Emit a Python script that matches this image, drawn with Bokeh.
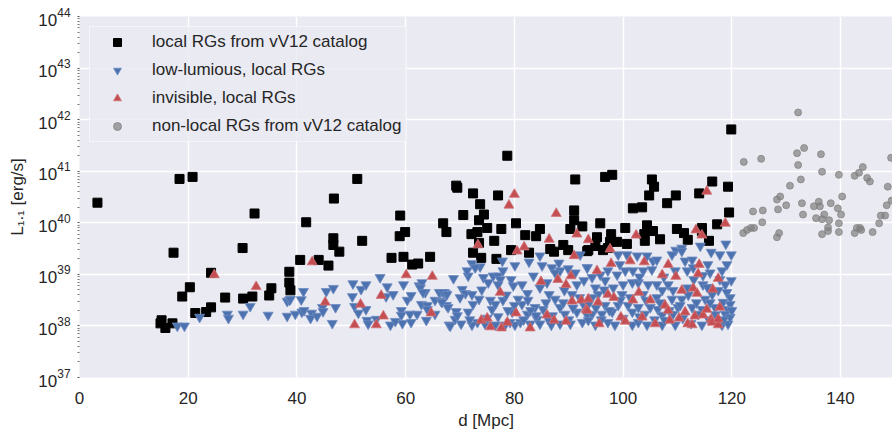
from bokeh.plotting import figure
from bokeh.models import Range1d, FixedTicker, ColumnDataSource, Legend, LegendItem
from bokeh.embed import file_html
from bokeh.resources import INLINE

# (distance d [Mpc], log10 L_1.1 [erg/s])
local_vv12 = [
    (3.3, 40.39), (18.4, 40.85), (20.8, 40.89), (32.2, 40.18), (46.8, 40.47), (51.1, 40.85), (59.0, 40.14),
    (41.7, 40.01), (66.9, 39.99), (67.5, 39.82), (17.3, 39.42), (30.0, 39.51), (46.7, 39.70), (46.7, 39.57),
    (47.8, 39.44), (52.0, 39.65), (58.9, 39.74), (59.9, 39.82), (57.4, 39.32), (59.6, 39.34), (61.2, 39.19),
    (62.3, 39.21), (64.5, 39.34), (40.6, 39.28), (44.0, 39.28), (45.8, 39.17), (38.6, 39.05), (38.6, 38.84),
    (38.8, 38.69), (24.2, 39.03), (20.3, 38.75), (18.9, 38.57), (26.8, 38.55), (30.1, 38.53), (31.8, 38.57),
    (35.3, 38.73), (34.9, 38.59), (24.2, 38.36), (23.3, 38.27), (21.3, 38.25), (14.9, 38.05), (15.1, 38.11),
    (15.8, 37.96), (17.1, 38.05),
    (78.7, 41.30), (69.3, 40.72), (69.5, 40.68), (72.4, 40.57), (77.0, 40.53), (91.2, 40.84), (73.7, 40.36),
    (74.4, 40.16), (70.6, 40.15), (73.5, 40.05), (75.0, 39.90), (77.6, 39.88), (80.3, 39.99), (72.1, 39.78),
    (73.2, 39.82), (73.5, 39.61), (76.3, 39.65), (72.4, 39.42), (73.9, 39.32), (76.7, 39.30), (79.4, 39.47),
    (82.0, 39.76), (84.0, 39.74), (84.7, 39.88), (82.7, 39.42), (86.6, 39.49), (87.3, 39.44), (89.0, 39.57),
    (89.9, 39.47), (91.0, 40.24), (91.0, 40.05), (92.5, 39.93), (90.3, 39.88), (93.4, 39.45),
    (119.9, 41.81), (96.7, 40.89), (98.0, 40.93), (105.3, 40.84), (105.7, 40.70), (116.4, 40.80), (119.3, 40.70),
    (104.8, 40.53), (109.7, 40.53), (114.0, 40.57), (101.8, 40.28), (103.5, 40.30), (108.1, 40.38), (119.5, 40.20),
    (95.8, 39.99), (100.4, 39.90), (104.4, 39.95), (105.5, 39.84), (109.9, 39.88), (111.2, 39.80), (114.5, 39.90),
    (114.5, 39.84), (117.3, 39.97), (95.2, 39.72), (97.8, 39.78), (97.6, 39.63), (98.9, 39.63), (100.7, 39.59),
    (103.9, 39.78), (104.0, 39.65), (106.8, 39.68), (111.9, 39.67), (115.8, 39.65), (93.6, 39.47), (94.9, 39.55),
    (96.3, 39.47), (97.2, 39.51),
]

low_luminous = [
    (18.0, 38.0), (19.3, 38.0), (22.1, 38.17), (27.2, 38.23), (27.4, 38.15), (30.1, 38.23), (31.4, 38.38),
    (34.7, 38.21), (38.2, 38.48), (38.6, 38.5), (38.2, 38.19), (39.7, 38.23), (40.8, 38.51), (41.2, 38.67),
    (40.9, 38.27), (41.3, 38.30), (42.7, 38.25), (42.5, 38.15), (43.7, 38.19), (44.7, 38.36), (44.8, 38.28),
    (45.4, 38.67), (46.7, 38.73), (47.1, 38.36), (46.5, 38.05), (50.3, 38.82), (50.2, 38.57), (50.6, 38.38),
    (51.3, 38.25), (51.8, 38.71), (52.7, 38.80), (52.7, 38.32), (52.9, 38.11), (53.1, 38.04), (54.6, 38.13),
    (55.3, 38.94), (56.6, 38.76), (56.4, 38.57), (57.7, 38.61), (57.2, 38.02), (58.1, 38.09), (59.2, 38.30),
    (59.2, 38.21), (59.4, 38.05), (59.6, 38.80), (60.3, 38.50), (61.0, 38.59), (61.0, 38.07), (62.1, 38.23),
    (62.5, 38.78), (63.0, 38.84), (62.9, 38.42), (63.6, 38.65), (64.0, 38.40), (63.8, 38.11), (64.0, 38.32),
    (65.4, 38.50), (65.4, 38.23), (66.4, 38.65), (66.5, 38.48), (67.3, 38.63), (67.5, 38.40), (68.0, 38.02),
    (62.7, 38.74), (63.2, 38.65), (66.2, 38.65), (67.1, 38.65), (38.8, 38.52), (60.8, 38.23),
    (68.8, 38.92), (71.5, 38.97), (71.3, 39.07), (72.2, 39.21), (73.7, 39.15), (72.8, 39.13), (77.8, 39.26),
    (80.1, 39.17), (82.7, 39.24), (84.7, 39.36), (85.1, 39.17), (88.2, 39.22), (86.9, 39.13), (88.4, 39.07),
    (87.5, 39.03), (89.9, 39.11), (91.2, 39.03), (92.1, 39.38), (93.4, 39.13), (70.4, 38.71), (71.0, 38.63),
    (72.2, 38.61), (74.3, 38.94), (75.2, 38.84), (76.1, 38.97), (77.0, 38.97), (77.9, 39.07), (77.4, 38.90),
    (77.0, 38.80), (79.4, 38.90), (79.8, 38.78), (81.4, 38.80), (82.4, 38.63), (83.5, 38.97), (84.7, 38.74),
    (86.0, 38.84), (86.4, 38.61), (89.2, 38.69), (90.6, 38.61), (91.5, 38.80), (92.8, 38.88), (66.9, 38.65),
    (67.6, 38.61), (66.7, 38.46), (67.8, 38.36), (69.3, 38.28), (69.1, 38.13), (70.2, 38.04), (68.2, 38.0),
    (71.5, 38.27), (72.4, 38.42), (73.5, 38.52), (73.2, 38.07), (75.6, 38.50), (75.9, 38.32), (76.5, 38.42),
    (77.9, 38.50), (79.6, 38.27), (80.7, 38.52), (81.4, 38.42), (82.4, 38.23), (82.5, 38.50), (83.8, 38.36),
    (84.2, 38.13), (84.7, 38.04), (85.3, 38.32), (86.2, 38.13), (87.5, 38.52), (88.4, 38.36), (89.3, 38.23),
    (90.3, 38.04), (91.5, 38.27), (92.5, 38.07), (93.4, 38.21), (88.4, 38.04), (82.9, 38.04), (81.1, 38.07),
    (80.1, 38.02), (79.2, 38.07), (78.3, 38.02), (76.5, 38.02), (74.6, 38.04), (72.2, 38.02),
    (70.0, 38.55), (74.0, 38.70), (78.5, 38.60), (80.0, 38.40), (83.0, 38.30), (85.8, 38.45), (87.0, 38.20),
    (89.0, 38.45), (90.8, 38.35), (92.0, 38.55), (69.5, 38.20), (71.8, 38.12), (75.0, 38.15), (77.0, 38.18),
    (78.8, 38.30), (81.7, 38.12), (84.0, 38.20), (86.8, 38.02), (90.0, 38.12), (92.8, 38.40),
    (109.7, 39.47), (110.8, 39.51), (110.8, 39.45), (114.2, 39.55), (116.2, 39.43), (117.8, 39.38), (118.9, 39.59),
    (119.9, 39.38), (111.4, 39.26), (112.7, 39.28), (115.6, 39.19), (116.0, 39.03), (118.2, 39.07), (119.1, 39.19),
    (111.8, 39.07), (112.9, 39.13), (114.7, 38.98), (119.9, 38.88), (118.8, 38.80), (104.4, 39.36), (105.5, 39.26),
    (106.2, 39.28), (102.6, 39.36), (100.7, 39.38), (99.1, 39.38), (99.4, 39.19), (98.9, 38.99), (100.4, 39.07),
    (101.8, 39.07), (103.7, 39.07), (105.3, 39.09), (109.0, 39.38), (109.6, 39.07), (108.3, 38.80), (97.2, 39.07),
    (96.7, 38.88), (95.8, 38.99), (94.3, 38.94), (93.4, 39.13), (100.0, 38.80), (101.7, 38.84), (102.8, 38.84),
    (104.6, 38.80), (106.2, 38.80), (107.2, 38.69), (109.2, 38.69), (111.9, 38.74), (114.7, 38.80), (116.4, 38.61),
    (117.5, 38.69), (119.1, 38.65), (119.7, 38.55), (94.9, 38.74), (98.2, 38.74), (95.4, 38.61), (94.3, 38.55),
    (99.8, 38.61), (101.3, 38.55), (103.7, 38.61), (106.2, 38.55), (109.0, 38.52), (110.8, 38.52), (115.1, 38.52),
    (118.4, 38.46), (119.7, 38.42), (93.6, 38.42), (96.7, 38.40), (99.1, 38.40), (100.9, 38.40), (102.8, 38.36),
    (105.0, 38.36), (106.4, 38.32), (110.1, 38.36), (112.7, 38.36), (114.5, 38.32), (116.9, 38.36), (119.3, 38.32),
    (94.3, 38.23), (96.1, 38.23), (98.0, 38.27), (101.7, 38.27), (104.0, 38.23), (107.2, 38.21), (109.2, 38.23),
    (113.8, 38.23), (118.8, 38.23), (93.6, 38.11), (94.9, 38.02), (97.2, 38.07), (98.5, 38.02), (101.7, 38.02),
    (102.8, 38.07), (104.4, 38.02), (107.2, 38.02), (107.7, 38.11), (109.6, 38.02), (114.5, 38.02), (118.2, 38.02),
    (119.3, 38.04), (119.7, 38.17), (120.0, 38.30),
    (96.0, 38.12), (100.0, 38.15), (103.0, 38.18), (105.8, 38.12), (108.5, 38.30), (111.0, 38.15), (112.5, 38.05),
    (113.5, 38.45), (115.8, 38.12), (117.0, 38.22), (116.0, 38.45), (110.5, 38.40), (106.8, 38.45), (104.2, 38.50),
    (99.5, 38.50), (97.5, 38.30), (95.0, 38.35), (112.0, 38.60), (113.0, 38.90), (107.5, 38.95), (103.0, 38.95),
    (96.5, 38.70), (118.5, 38.12), (117.8, 38.90), (115.5, 38.75),
]

invisible = [
    (24.8, 38.99), (32.5, 38.76), (42.8, 39.24), (45.2, 38.46), (50.6, 38.02), (51.7, 38.42), (54.6, 38.02),
    (55.5, 38.59), (55.9, 38.19), (60.1, 38.99), (64.7, 38.25), (64.9, 38.96),
    (80.0, 40.55), (79.0, 40.34), (87.7, 40.18), (73.3, 39.57), (86.4, 39.68), (91.5, 39.78), (93.6, 39.67),
    (81.8, 39.53), (80.5, 39.45), (91.0, 39.36), (77.4, 38.65), (84.9, 38.86), (88.0, 38.90), (89.5, 38.80),
    (90.4, 38.97), (80.3, 38.25), (86.0, 38.21), (87.3, 38.11), (89.5, 38.09), (90.6, 38.48), (92.3, 38.50),
    (93.2, 38.32), (73.9, 38.11), (75.0, 38.15), (75.6, 37.98), (77.6, 37.96), (78.7, 38.07), (82.9, 37.96),
    (115.4, 40.61), (118.8, 39.99), (113.4, 39.86), (114.5, 39.76), (102.4, 39.76), (97.6, 39.49), (97.8, 39.21),
    (95.2, 39.07), (101.3, 39.26), (103.9, 39.24), (108.3, 39.19), (107.2, 38.99), (109.7, 38.96), (114.0, 39.19),
    (113.8, 39.01), (117.5, 38.92), (116.5, 38.71), (102.9, 38.65), (110.8, 38.69), (112.9, 38.73), (113.6, 38.63),
    (97.2, 38.61), (98.3, 38.55), (101.8, 38.50), (105.0, 38.50), (93.6, 38.52), (95.4, 38.46), (107.7, 38.40),
    (108.3, 38.30), (93.4, 38.30), (99.6, 38.17), (100.4, 38.09), (103.5, 38.17), (105.9, 38.04), (108.6, 38.11),
    (110.3, 38.15), (111.4, 38.27), (111.9, 38.04), (112.7, 38.02), (113.2, 38.19), (114.7, 38.21), (115.4, 38.32),
    (116.2, 38.13), (116.4, 38.07), (117.5, 38.02), (117.5, 38.13), (117.8, 38.36), (95.6, 38.04),
]

nonlocal_vv12 = [
    (132.2, 42.14), (122.2, 41.18), (125.4, 41.24), (132.0, 41.35), (133.3, 41.45), (136.4, 41.33), (132.2, 41.12),
    (136.6, 40.99), (139.7, 40.93), (132.7, 40.84), (130.7, 40.72), (142.6, 40.91), (143.4, 40.97), (144.1, 41.08),
    (144.9, 40.87), (145.4, 40.80), (149.3, 41.26), (148.7, 40.70), (128.3, 40.45), (128.9, 40.51), (130.0, 40.34),
    (128.5, 40.26), (132.9, 40.38), (133.1, 40.16), (135.1, 40.32), (136.0, 40.41), (136.2, 40.32), (138.2, 40.38),
    (140.3, 40.51), (139.5, 40.28), (140.1, 40.16), (135.5, 40.09), (136.6, 40.07), (137.0, 40.16), (137.9, 40.05),
    (137.7, 39.91), (137.7, 39.84), (136.6, 39.78), (139.7, 39.99), (139.7, 39.82), (142.6, 39.80), (143.0, 39.90),
    (143.6, 39.90), (143.8, 39.86), (145.9, 39.82), (147.1, 39.99), (147.4, 40.14), (148.2, 40.14), (148.5, 40.34),
    (149.4, 40.43), (123.9, 40.22), (125.7, 40.24), (125.6, 40.01), (123.5, 39.90), (122.8, 39.86), (122.1, 39.80),
    (124.1, 39.90), (128.7, 39.80), (128.3, 39.72),
]

x_ticks = [0, 20, 40, 60, 80, 100, 120, 140]
y_decades = [37, 38, 39, 40, 41, 42, 43, 44]
legend_labels = ["local RGs from vV12 catalog", "low-lumious, local RGs",
                 "invisible, local RGs", "non-local RGs from vV12 catalog"]
x_label = "d [Mpc]"
y_label = "L\u2081.\u2081 [erg/s]"

TXT = "#262626"
FONT = "Liberation Sans"


def src(pts):
    return ColumnDataSource(dict(d=[a for a, b in pts], L=[10 ** b for a, b in pts]))


p = figure(width=892, height=432, x_range=Range1d(0, 149.56), y_range=Range1d(1e37, 1e44),
           y_axis_type="log", output_backend="svg", toolbar_location=None,
           min_border_left=79, min_border_right=0, min_border_top=16, min_border_bottom=51)
p.background_fill_color = "#EAEAF2"
p.border_fill_color = "white"
p.outline_line_color = None

styles = dict(
    black=dict(marker="square", fill_color="black", line_color="black"),
    blue=dict(marker="inverted_triangle", fill_color="#4C72B0", line_color="#6F8CC0", line_width=0.8),
    red=dict(marker="triangle", fill_color="#C44E52", line_color="#D07478", line_width=0.8),
    grey=dict(marker="circle", fill_color="grey", line_color="grey", fill_alpha=0.7, line_alpha=0.7),
)

r_black = p.scatter("d", "L", source=src(local_vv12), size=9, **styles["black"])
r_blue = p.scatter("d", "L", source=src(low_luminous), size=10, **styles["blue"])
r_red = p.scatter("d", "L", source=src(invisible), size=10, **styles["red"])
r_grey = p.scatter("d", "L", source=src(nonlocal_vv12), size=7, **styles["grey"])

# legend-only proxies with smaller markers (a single NaN row, so nothing is drawn in the plot)
nan_src = lambda: ColumnDataSource(dict(d=[float("nan")], L=[float("nan")]))
l_black = p.scatter("d", "L", source=nan_src(), size=7, **styles["black"])
l_blue = p.scatter("d", "L", source=nan_src(), size=8, **styles["blue"])
l_red = p.scatter("d", "L", source=nan_src(), size=8, **styles["red"])
l_grey = p.scatter("d", "L", source=nan_src(), size=6, **styles["grey"])

for g in (p.xgrid, p.ygrid):
    g.grid_line_color = "white"
    g.grid_line_width = 1.4

p.xaxis.ticker = FixedTicker(ticks=x_ticks)
p.yaxis.ticker = FixedTicker(ticks=[10.0 ** e for e in y_decades],
                             minor_ticks=[m * 10.0 ** e for e in y_decades[:-1] for m in range(2, 10)])

for ax in (p.xaxis, p.yaxis):
    ax.axis_line_color = None
    ax.major_label_text_font = FONT
    ax.major_label_text_font_size = "17px"
    ax.major_label_text_color = TXT
    ax.axis_label_text_font = FONT
    ax.axis_label_text_font_size = "17px"
    ax.axis_label_text_font_style = "normal"
    ax.axis_label_text_color = TXT

p.xaxis.major_tick_line_color = None
p.xaxis.minor_tick_line_color = None
p.xaxis.major_label_standoff = 8
p.xaxis.axis_label_standoff = 4
p.xaxis.axis_label = x_label

p.yaxis.major_tick_in = 0
p.yaxis.major_tick_out = 2
p.yaxis.major_tick_line_color = "#555555"
p.yaxis.minor_tick_in = 0
p.yaxis.minor_tick_out = 2
p.yaxis.minor_tick_line_color = "#777777"
p.yaxis.major_label_standoff = 7
p.yaxis.axis_label_standoff = 8
p.yaxis.axis_label = y_label

legend = Legend(items=[LegendItem(label=legend_labels[0], renderers=[l_black]),
                       LegendItem(label=legend_labels[1], renderers=[l_blue]),
                       LegendItem(label=legend_labels[2], renderers=[l_red]),
                       LegendItem(label=legend_labels[3], renderers=[l_grey])],
                location="top_left", margin=10, padding=5, spacing=8,
                glyph_width=44, glyph_height=20, label_height=20, label_standoff=13,
                label_text_font=FONT, label_text_font_size="17px", label_text_color=TXT,
                background_fill_color="#EAEAF2", background_fill_alpha=0.8,
                border_line_color="white", border_line_width=1.5)
p.add_layout(legend)

open("out.html", "w").write(file_html(p, INLINE))
